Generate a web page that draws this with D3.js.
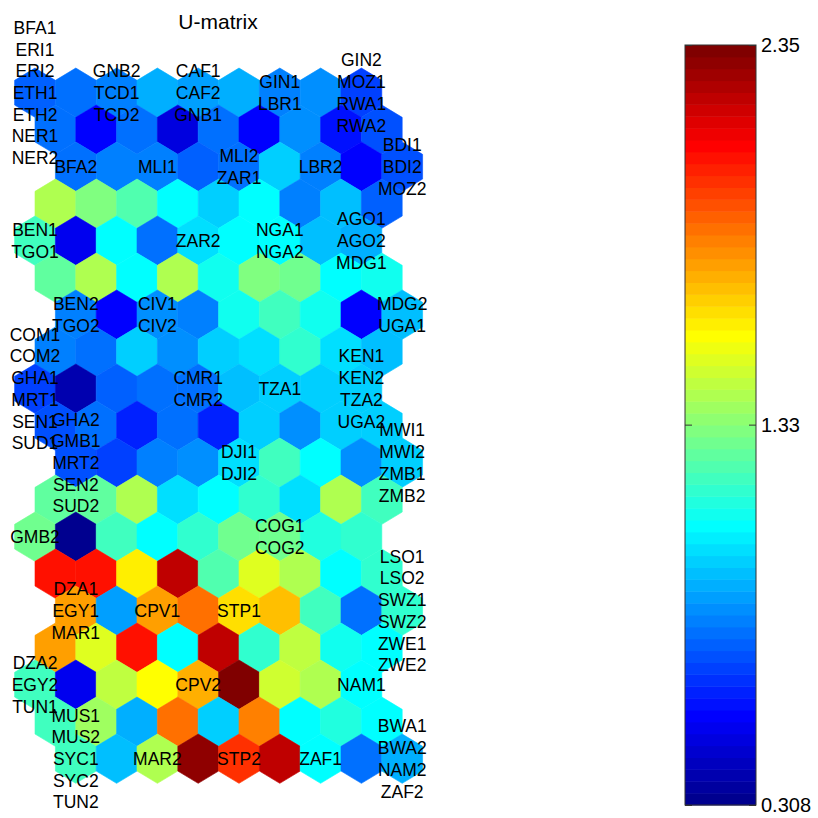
<!DOCTYPE html>
<html><head><meta charset="utf-8">
<script src="https://cdn.jsdelivr.net/npm/d3@7/dist/d3.min.js"></script>
<style>
body{margin:0;background:#fff}
text{font-family:"Liberation Sans",Arial,Helvetica,sans-serif;fill:#000}
</style>
</head><body>
<svg id="chart" width="818" height="818"></svg>
<script>
// ---------- data ----------
const title = "U-matrix";
const colorMin = 0.308, colorMax = 2.35;
const colorTicks = [0.308, 1.33, 2.35];
const colorTickLabels = ["0.308", "1.33", "2.35"];

// U-matrix values, 19 rows x 9 cells
const umat = [
  [0.74, 0.76, 0.80, 0.90, 0.86, 0.90, 0.80, 0.82, 0.68],
  [0.76, 0.56, 0.78, 0.48, 0.78, 0.56, 0.82, 0.58, 0.70],
  [0.77, 0.80, 0.80, 0.74, 0.78, 0.95, 0.80, 0.56, 0.70],
  [1.42, 1.30, 1.22, 1.07, 0.95, 1.05, 0.80, 0.92, 0.74],
  [1.18, 0.50, 1.07, 0.76, 1.00, 1.05, 1.05, 0.94, 0.90],
  [1.25, 1.42, 1.07, 1.40, 1.08, 1.30, 1.28, 1.07, 1.08],
  [0.80, 0.56, 0.82, 0.80, 1.08, 1.18, 1.10, 0.55, 0.92],
  [0.80, 0.76, 0.97, 0.84, 0.95, 1.00, 1.15, 0.98, 0.92],
  [0.67, 0.38, 0.74, 0.76, 0.76, 0.92, 0.95, 0.97, 0.95],
  [0.70, 0.76, 0.62, 0.76, 0.62, 0.95, 0.84, 0.95, 0.95],
  [0.72, 0.67, 0.80, 0.84, 1.00, 1.20, 1.05, 0.84, 0.95],
  [1.25, 1.25, 1.42, 1.00, 1.05, 1.15, 1.00, 1.40, 1.18],
  [1.27, 0.33, 1.20, 1.07, 1.15, 1.28, 1.27, 1.12, 1.15],
  [2.05, 2.05, 1.60, 2.20, 1.22, 1.50, 1.40, 1.05, 1.15],
  [1.75, 0.88, 1.75, 1.85, 1.62, 1.70, 1.20, 0.76, 1.15],
  [1.75, 1.50, 2.05, 1.07, 2.22, 1.15, 1.45, 1.10, 1.07],
  [1.17, 0.52, 1.45, 1.58, 1.72, 2.33, 1.47, 1.40, 1.07],
  [1.17, 1.38, 0.90, 1.87, 0.95, 1.83, 1.07, 1.12, 1.07],
  [1.17, 0.92, 1.40, 2.30, 1.98, 2.22, 1.07, 0.76, 0.90]
];

// labels hitting map units: [mapRow, mapCol]
const labelUnits = [
  [0,0],[0,1],[0,2],[0,3],[0,4],
  [1,0],[1,1],[1,2],[1,3],[1,4],
  [2,0],[2,2],[2,3],[2,4],
  [3,0],[3,1],[3,4],
  [4,0],[4,2],[4,3],[4,4],
  [5,0],[5,2],[5,4],
  [6,0],[6,3],
  [7,0],[7,1],[7,2],[7,4],
  [8,0],[8,2],[8,4],
  [9,0],[9,1],[9,2],[9,3],[9,4]
];
const labelNames = [
  ["BFA1","ERI1","ERI2","ETH1","ETH2","NER1","NER2"],["GNB2","TCD1","TCD2"],["CAF1","CAF2","GNB1"],["GIN1","LBR1"],["GIN2","MOZ1","RWA1","RWA2"],
  ["BFA2"],["MLI1"],["MLI2","ZAR1"],["LBR2"],["BDI1","BDI2","MOZ2"],
  ["BEN1","TGO1"],["ZAR2"],["NGA1","NGA2"],["AGO1","AGO2","MDG1"],
  ["BEN2","TGO2"],["CIV1","CIV2"],["MDG2","UGA1"],
  ["COM1","COM2","GHA1","MRT1","SEN1","SUD1"],["CMR1","CMR2"],["TZA1"],["KEN1","KEN2","TZA2","UGA2"],
  ["GHA2","GMB1","MRT2","SEN2","SUD2"],["DJI1","DJI2"],["MWI1","MWI2","ZMB1","ZMB2"],
  ["GMB2"],["COG1","COG2"],
  ["DZA1","EGY1","MAR1"],["CPV1"],["STP1"],["LSO1","LSO2","SWZ1","SWZ2","ZWE1","ZWE2"],
  ["DZA2","EGY2","TUN1"],["CPV2"],["NAM1"],
  ["MUS1","MUS2","SYC1","SYC2","TUN2"],["MAR2"],["STP2"],["ZAF1"],["BWA1","BWA2","NAM2","ZAF2"]
];

// ---------- layout ----------
const svg = d3.select("#chart");
const nRows = umat.length;
const x = d3.scaleLinear().domain([0, 9]).range([35, 35 + 9 * 40.8]);
const y = d3.scaleLinear().domain([0, nRows - 1]).range([92.7, 758.7]);
const rowShift = r => [0, 0.5, 1, 0.5][r % 4];
const hw = (x(1) - x(0)) / 2;
const R = (y(1) - y(0)) / 0.75 / 2;

// MATLAB jet(64)
function jet(n) {
  const m = Math.ceil(n / 4);
  const u = [];
  for (let i = 1; i <= m; i++) u.push(i / m);
  for (let i = 0; i < m - 1; i++) u.push(1);
  for (let i = m; i >= 1; i--) u.push(i / m);
  const J = Array.from({length: n}, () => [0, 0, 0]);
  const g0 = Math.ceil(m / 2) - (n % 4 === 1 ? 1 : 0);
  for (let i = 0; i < u.length; i++) {
    const g = g0 + i + 1, r = g + m, b = g - m;
    if (r <= n) J[r - 1][0] = u[i];
    if (g <= n) J[g - 1][1] = u[i];
    if (b >= 1) J[b - 1][2] = u[i];
  }
  return J.map(c => d3.rgb(c[0] * 255, c[1] * 255, c[2] * 255).formatHex());
}
const cmap = jet(64);
const color = d3.scaleQuantize().domain([colorMin, colorMax]).range(cmap);

function hexPath(cx, cy) {
  return `M${cx},${cy - R}L${cx + hw},${cy - R / 2}L${cx + hw},${cy + R / 2}L${cx},${cy + R}L${cx - hw},${cy + R / 2}L${cx - hw},${cy - R / 2}Z`;
}

const cells = [];
umat.forEach((row, r) => row.forEach((v, c) => cells.push({r, c, v})));

svg.append("g").selectAll("path").data(cells).join("path")
  .attr("d", d => hexPath(x(d.c + rowShift(d.r)), y(d.r)))
  .attr("fill", d => color(d.v))
  .attr("stroke", d => color(d.v))
  .attr("stroke-width", 0.6);

// labels
const lineH = 21.7;
const lg = svg.append("g").attr("font-size", 17.5).attr("text-anchor", "middle");
labelUnits.forEach(([mr, mc], i) => {
  const ur = mr * 2, uc = mc * 2;
  const cx = x(uc + rowShift(ur)), cy = y(ur);
  const names = labelNames[i];
  names.forEach((nm, k) => {
    lg.append("text")
      .attr("x", cx)
      .attr("y", cy + (k - (names.length - 1) / 2) * lineH)
      .attr("dy", "0.36em")
      .text(nm);
  });
});

// title
svg.append("text").attr("x", 218).attr("y", 21).attr("dy", "0.36em")
  .attr("text-anchor", "middle").attr("font-size", 21).text(title);

// colorbar
const cbX = 685, cbW = 71;
const cy2 = d3.scaleLinear().domain([colorMin, colorMax]).range([805, 45]);
const step = (colorMax - colorMin) / cmap.length;
svg.append("g").selectAll("rect").data(cmap).join("rect")
  .attr("x", cbX).attr("width", cbW)
  .attr("y", (d, i) => cy2(colorMin + (i + 1) * step))
  .attr("height", (d, i) => cy2(colorMin + i * step) - cy2(colorMin + (i + 1) * step) + 0.5)
  .attr("fill", d => d);

const axR = svg.append("g").attr("transform", `translate(${cbX + cbW},0)`)
  .call(d3.axisRight(cy2).tickValues(colorTicks).tickSize(-7).tickPadding(5)
    .tickFormat((d, i) => colorTickLabels[i]));
const axL = svg.append("g").attr("transform", `translate(${cbX},0)`)
  .call(d3.axisLeft(cy2).tickValues(colorTicks).tickSize(-7).tickFormat(""));
[axR, axL].forEach(a => {
  a.select(".domain").remove();
  a.selectAll("line").attr("stroke", "#333");
});
axR.selectAll("text").attr("font-size", 20).attr("fill", "#000")
  .attr("font-family", "'Liberation Sans',Arial,sans-serif");
svg.append("rect").attr("x", cbX).attr("y", 45).attr("width", cbW).attr("height", 760)
  .attr("fill", "none").attr("stroke", "#333").attr("stroke-width", 1);
</script>
</body></html>
